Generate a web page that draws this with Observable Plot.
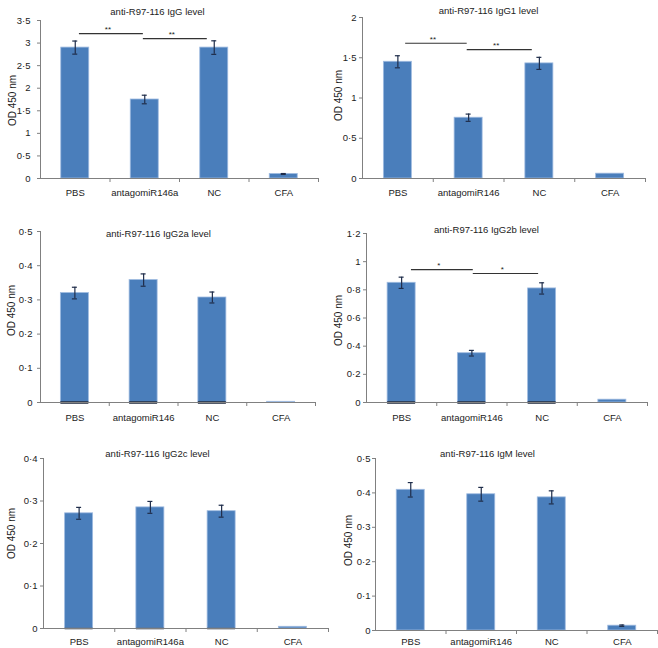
<!DOCTYPE html>
<html><head><meta charset="utf-8">
<script src="https://cdn.jsdelivr.net/npm/d3@7"></script>
<script src="https://cdn.jsdelivr.net/npm/@observablehq/plot@0.6"></script>
<style>
body{margin:0;background:#fff;}
#wrap{position:relative;width:658px;height:648px;background:#fff;}
</style></head><body><div id="wrap"></div>
<script>
// ---- data ----
const catsA = ["PBS", "antagomiR146a", "NC", "CFA"];
const catsB = ["PBS", "antagomiR146", "NC", "CFA"];

const titleIgG = "anti-R97-116 IgG level";
const valIgG = [2.9, 1.75, 2.9, 0.1];
const errIgG = [0.145, 0.095, 0.15, 0.01];
const ticksIgG = [0, 0.5, 1, 1.5, 2, 2.5, 3, 3.5];
const sigIgG = [{x1: 0.56, x2: 1.48, y: 3.21, label: "**"}, {x1: 1.48, x2: 2.40, y: 3.10, label: "**"}];

const titleIgG1 = "anti-R97-116 IgG1 level";
const valIgG1 = [1.45, 0.755, 1.43, 0.06];
const errIgG1 = [0.075, 0.045, 0.075, 0];
const ticksIgG1 = [0, 0.5, 1, 1.5, 2];
const sigIgG1 = [{x1: 0.61, x2: 1.48, y: 1.68, label: "**"}, {x1: 1.48, x2: 2.40, y: 1.60, label: "**"}];

const titleIgG2a = "anti-R97-116 IgG2a level";
const valIgG2a = [0.32, 0.358, 0.307, 0.002];
const errIgG2a = [0.017, 0.018, 0.016, 0];
const ticksIgG2a = [0, 0.1, 0.2, 0.3, 0.4, 0.5];

const titleIgG2b = "anti-R97-116 IgG2b level";
const valIgG2b = [0.85, 0.35, 0.81, 0.02];
const errIgG2b = [0.04, 0.02, 0.04, 0];
const ticksIgG2b = [0, 0.2, 0.4, 0.6, 0.8, 1, 1.2];
const sigIgG2b = [{x1: 0.64, x2: 1.52, y: 0.944, label: "*"}, {x1: 1.52, x2: 2.45, y: 0.916, label: "*"}];

const titleIgG2c = "anti-R97-116 IgG2c level";
const valIgG2c = [0.271, 0.285, 0.276, 0.004];
const errIgG2c = [0.014, 0.014, 0.014, 0];
const ticksIgG2c = [0, 0.1, 0.2, 0.3, 0.4];

const titleIgM = "anti-R97-116 IgM level";
const valIgM = [0.409, 0.396, 0.387, 0.014];
const errIgM = [0.021, 0.02, 0.019, 0.002];
const ticksIgM = [0, 0.1, 0.2, 0.3, 0.4, 0.5];

const yLabel = "OD 450 nm";

// ---- drawing ----
const FONT = "'Liberation Sans', Arial, sans-serif";
const FS = 9.5;
const BAR = "#4a7ebb";
const ERR = "#1f2d4a";
const AXIS = "#808080";

function panel(p) {
  const n = p.cats.length;
  const rows = p.cats.map((c, i) => ({cat: c, i, v: p.values[i], e: p.errors[i]}));
  const errRows = rows.filter(d => d.e > 0);
  const fw = p.width - p.ml - p.mr;
  const bw = fw / n;
  const barInset = (bw - 28) / 2;
  const capInset = bw / 2 - 2.5;
  const fmt = d => String(d).replace(".", "·");
  const marks = [
    Plot.rectY(rows, {x1: d => d.i, x2: d => d.i + 1, y: "v", fill: BAR, stroke: "#9fbbe0", strokeWidth: 0.8,
      insetLeft: barInset, insetRight: barInset}),
  ];
  if (p.baseline) {
    marks.push(Plot.ruleY(rows.filter(d => d.v > 0.1 * p.ymax), {x1: d => d.i, x2: d => d.i + 1, y: 0,
      stroke: "#1a2438", strokeWidth: p.baseline, insetLeft: barInset, insetRight: barInset}));
  }
  marks.push(
    Plot.ruleY([0], {stroke: AXIS, strokeWidth: 1}),
    Plot.ruleX([0], {stroke: AXIS, strokeWidth: 1}),
    Plot.ruleX(errRows, {x: d => d.i + 0.5, y1: d => d.v - d.e, y2: d => d.v + d.e, stroke: ERR, strokeWidth: 1.2}),
    Plot.ruleY(errRows, {x1: d => d.i, x2: d => d.i + 1, y: d => d.v + d.e, stroke: ERR, strokeWidth: 1.2,
      insetLeft: capInset, insetRight: capInset}),
    Plot.ruleY(errRows, {x1: d => d.i, x2: d => d.i + 1, y: d => d.v - d.e, stroke: ERR, strokeWidth: 1.2,
      insetLeft: capInset, insetRight: capInset}),
    Plot.axisY({ticks: p.ticks, tickSize: 3, tickPadding: p.tp, tickFormat: fmt, fontSize: FS, stroke: AXIS, fill: "#222", label: null}),
    Plot.axisX({ticks: d3.range(1, n + 1), tickSize: 4, tickFormat: () => "", stroke: AXIS, label: null}),
    Plot.axisX({ticks: d3.range(n).map(i => i + 0.5), tickSize: 0, tickPadding: p.lp,
      tickFormat: t => p.cats[Math.floor(t)], fontSize: FS, fill: "#222", label: null}),
    Plot.text([p.title], {frameAnchor: "top-left", dx: p.tx - p.ml, dy: p.ty - p.mt, text: d => d,
      fontSize: FS, fill: "#222", textAnchor: "middle"}),
    Plot.text([yLabel], {frameAnchor: "top-left", dx: p.lx - p.ml, dy: p.ly - p.mt, text: d => d,
      fontSize: FS + 0.5, fill: "#222", rotate: -90, textAnchor: "middle"})
  );
  if (p.sig) {
    marks.push(
      Plot.ruleY(p.sig, {x1: "x1", x2: "x2", y: "y", stroke: "#333", strokeWidth: 1.2}),
      Plot.text(p.sig, {x: d => (d.x1 + d.x2) / 2 - 0.05, y: "y", text: "label", dy: -4, fontSize: 8, fill: "#222"})
    );
  }
  const svg = Plot.plot({
    width: p.width, height: p.height,
    marginLeft: p.ml, marginRight: p.mr, marginTop: p.mt, marginBottom: p.mb,
    x: {type: "linear", domain: [0, n], axis: null},
    y: {type: "linear", domain: [0, p.ymax], axis: null},
    style: {fontFamily: FONT, fontSize: FS + "px", background: "transparent", overflow: "visible",
      position: "absolute", left: p.left + "px", top: p.top + "px"},
    marks
  });
  document.getElementById("wrap").appendChild(svg);
}

panel({cats: catsA, values: valIgG, errors: errIgG, ticks: ticksIgG, ymax: 3.5, sig: sigIgG, title: titleIgG,
  left: 0, top: 0, width: 329, height: 210, ml: 40, mr: 11, mt: 20, mb: 32, tp: 7, lp: 11,
  tx: 157, ty: 8, lx: 8, ly: 100});
panel({cats: catsB, values: valIgG1, errors: errIgG1, ticks: ticksIgG1, ymax: 2, sig: sigIgG1, title: titleIgG1,
  left: 329, top: 0, width: 329, height: 210, ml: 33, mr: 13, mt: 17, mb: 32, tp: 3, lp: 11,
  tx: 159, ty: 7, lx: 5, ly: 95});
panel({cats: catsB, values: valIgG2a, errors: errIgG2a, ticks: ticksIgG2a, ymax: 0.5, title: titleIgG2a, baseline: 2.5,
  left: 0, top: 210, width: 329, height: 219, ml: 40, mr: 14, mt: 21, mb: 27, tp: 5, lp: 12,
  tx: 158, ty: 20, lx: 7, ly: 100});
panel({cats: catsB, values: valIgG2b, errors: errIgG2b, ticks: ticksIgG2b, ymax: 1.2, sig: sigIgG2b, title: titleIgG2b, baseline: 2.5,
  left: 329, top: 210, width: 329, height: 219, ml: 37, mr: 11, mt: 23, mb: 27, tp: 3, lp: 12,
  tx: 157, ty: 16, lx: 5, ly: 110});
panel({cats: catsA, values: valIgG2c, errors: errIgG2c, ticks: ticksIgG2c, ymax: 0.4, title: titleIgG2c, baseline: 1.5,
  left: 0, top: 429, width: 329, height: 219, ml: 43, mr: 1, mt: 29, mb: 20, tp: 3, lp: 10,
  tx: 157, ty: 21, lx: 7, ly: 104});
panel({cats: catsB, values: valIgM, errors: errIgM, ticks: ticksIgM, ymax: 0.5, title: titleIgM,
  left: 329, top: 429, width: 329, height: 219, ml: 46, mr: 1, mt: 29, mb: 18, tp: 2, lp: 8,
  tx: 158, ty: 21, lx: 15, ly: 111});
</script>
</body></html>
